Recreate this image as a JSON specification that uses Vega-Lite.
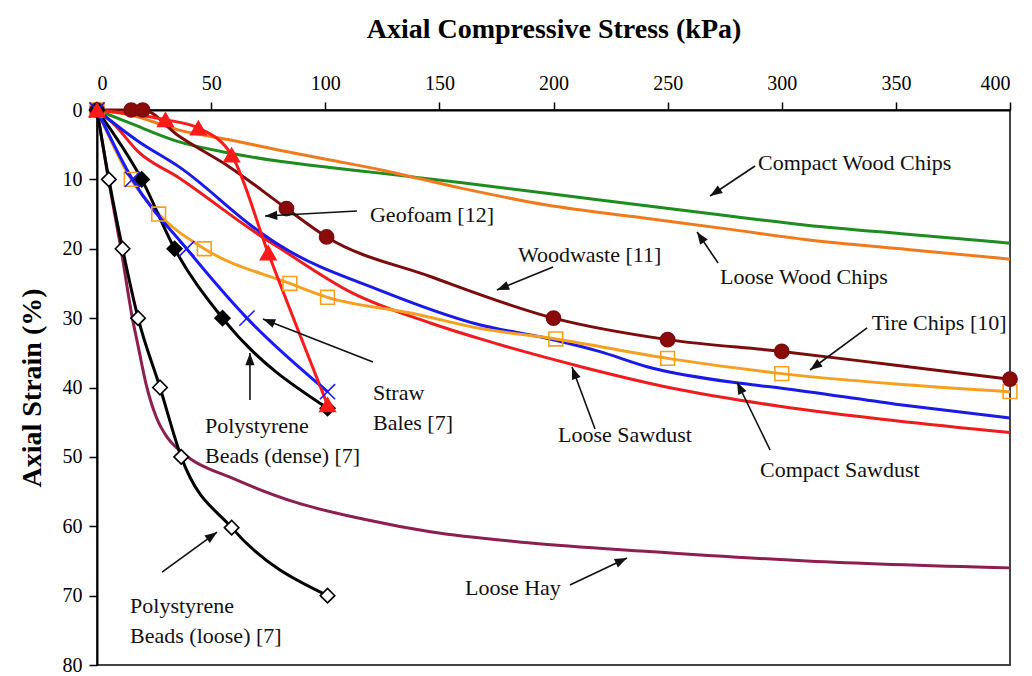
{
  "$schema": "https://vega.github.io/schema/vega-lite/v6.json",
  "width": 913,
  "height": 555,
  "autosize": {"type": "none"},
  "padding": {"left": 97, "top": 110, "right": 22, "bottom": 11},
  "background": "white",
  "config": {
    "font": "Liberation Serif",
    "view": {"stroke": "#444", "strokeWidth": 2},
    "axis": {
      "grid": false,
      "domainColor": "#000",
      "domainWidth": 2,
      "tickColor": "#000",
      "tickWidth": 1.5,
      "tickSize": 8,
      "labelFont": "Liberation Serif",
      "labelFontSize": 20,
      "labelColor": "#000",
      "titleFont": "Liberation Serif",
      "titleFontSize": 28,
      "titleFontWeight": "bold",
      "titleColor": "#000"
    }
  },
  "datasets": {
    "curves": [
      {"s": "Compact Wood Chips", "x": 0, "y": 0, "m": 0},
      {"s": "Compact Wood Chips", "x": 14.5, "y": 1.9, "m": 0},
      {"s": "Compact Wood Chips", "x": 36, "y": 4.6, "m": 0},
      {"s": "Compact Wood Chips", "x": 58, "y": 6.2, "m": 0},
      {"s": "Compact Wood Chips", "x": 80, "y": 7.4, "m": 0},
      {"s": "Compact Wood Chips", "x": 102, "y": 8.3, "m": 0},
      {"s": "Compact Wood Chips", "x": 124, "y": 9.1, "m": 0},
      {"s": "Compact Wood Chips", "x": 160, "y": 10.5, "m": 0},
      {"s": "Compact Wood Chips", "x": 197, "y": 12, "m": 0},
      {"s": "Compact Wood Chips", "x": 238, "y": 13.7, "m": 0},
      {"s": "Compact Wood Chips", "x": 270, "y": 15, "m": 0},
      {"s": "Compact Wood Chips", "x": 311, "y": 16.6, "m": 0},
      {"s": "Compact Wood Chips", "x": 355, "y": 17.9, "m": 0},
      {"s": "Compact Wood Chips", "x": 400, "y": 19.2, "m": 0},

      {"s": "Loose Wood Chips", "x": 0, "y": 0, "m": 0},
      {"s": "Loose Wood Chips", "x": 14.5, "y": 0.7, "m": 0},
      {"s": "Loose Wood Chips", "x": 36, "y": 2.9, "m": 0},
      {"s": "Loose Wood Chips", "x": 58, "y": 4.3, "m": 0},
      {"s": "Loose Wood Chips", "x": 80, "y": 5.8, "m": 0},
      {"s": "Loose Wood Chips", "x": 102, "y": 7.2, "m": 0},
      {"s": "Loose Wood Chips", "x": 124, "y": 8.6, "m": 0},
      {"s": "Loose Wood Chips", "x": 160, "y": 11.3, "m": 0},
      {"s": "Loose Wood Chips", "x": 197, "y": 13.7, "m": 0},
      {"s": "Loose Wood Chips", "x": 238, "y": 15.5, "m": 0},
      {"s": "Loose Wood Chips", "x": 275, "y": 17.1, "m": 0},
      {"s": "Loose Wood Chips", "x": 311, "y": 18.7, "m": 0},
      {"s": "Loose Wood Chips", "x": 355, "y": 20.1, "m": 0},
      {"s": "Loose Wood Chips", "x": 400, "y": 21.5, "m": 0},

      {"s": "Loose Hay", "x": 0, "y": 0, "m": 0},
      {"s": "Loose Hay", "x": 5, "y": 10, "m": 0},
      {"s": "Loose Hay", "x": 10.5, "y": 20, "m": 0},
      {"s": "Loose Hay", "x": 15.5, "y": 30, "m": 0},
      {"s": "Loose Hay", "x": 18, "y": 34, "m": 0},
      {"s": "Loose Hay", "x": 21.5, "y": 39.5, "m": 0},
      {"s": "Loose Hay", "x": 26, "y": 44.3, "m": 0},
      {"s": "Loose Hay", "x": 31, "y": 47.3, "m": 0},
      {"s": "Loose Hay", "x": 36, "y": 49, "m": 0},
      {"s": "Loose Hay", "x": 41, "y": 50.3, "m": 0},
      {"s": "Loose Hay", "x": 58, "y": 52.9, "m": 0},
      {"s": "Loose Hay", "x": 87.5, "y": 56.6, "m": 0},
      {"s": "Loose Hay", "x": 117, "y": 59, "m": 0},
      {"s": "Loose Hay", "x": 146, "y": 60.8, "m": 0},
      {"s": "Loose Hay", "x": 190, "y": 62.4, "m": 0},
      {"s": "Loose Hay", "x": 240, "y": 63.6, "m": 0},
      {"s": "Loose Hay", "x": 311, "y": 65, "m": 0},
      {"s": "Loose Hay", "x": 400, "y": 66, "m": 0},

      {"s": "Loose Sawdust", "x": 0, "y": 0, "m": 0},
      {"s": "Loose Sawdust", "x": 7, "y": 1.9, "m": 0},
      {"s": "Loose Sawdust", "x": 18, "y": 6, "m": 0},
      {"s": "Loose Sawdust", "x": 36, "y": 9.8, "m": 0},
      {"s": "Loose Sawdust", "x": 71, "y": 18, "m": 0},
      {"s": "Loose Sawdust", "x": 80, "y": 19.9, "m": 0},
      {"s": "Loose Sawdust", "x": 112, "y": 26.4, "m": 0},
      {"s": "Loose Sawdust", "x": 146, "y": 30.7, "m": 0},
      {"s": "Loose Sawdust", "x": 168, "y": 33, "m": 0},
      {"s": "Loose Sawdust", "x": 212, "y": 37, "m": 0},
      {"s": "Loose Sawdust", "x": 255, "y": 40.3, "m": 0},
      {"s": "Loose Sawdust", "x": 299, "y": 42.7, "m": 0},
      {"s": "Loose Sawdust", "x": 350, "y": 44.8, "m": 0},
      {"s": "Loose Sawdust", "x": 400, "y": 46.5, "m": 0},

      {"s": "Compact Sawdust", "x": 0, "y": 0, "m": 0},
      {"s": "Compact Sawdust", "x": 18, "y": 4.5, "m": 0},
      {"s": "Compact Sawdust", "x": 36, "y": 8.2, "m": 0},
      {"s": "Compact Sawdust", "x": 71, "y": 17.5, "m": 0},
      {"s": "Compact Sawdust", "x": 80, "y": 19.5, "m": 0},
      {"s": "Compact Sawdust", "x": 124, "y": 26, "m": 0},
      {"s": "Compact Sawdust", "x": 168, "y": 31, "m": 0},
      {"s": "Compact Sawdust", "x": 197, "y": 32.9, "m": 0},
      {"s": "Compact Sawdust", "x": 220, "y": 34.8, "m": 0},
      {"s": "Compact Sawdust", "x": 241, "y": 37, "m": 0},
      {"s": "Compact Sawdust", "x": 282, "y": 39.4, "m": 0},
      {"s": "Compact Sawdust", "x": 300, "y": 40.1, "m": 0},
      {"s": "Compact Sawdust", "x": 350, "y": 42.4, "m": 0},
      {"s": "Compact Sawdust", "x": 400, "y": 44.4, "m": 0},

      {"s": "Tire Chips", "x": 0, "y": 0, "m": 1},
      {"s": "Tire Chips", "x": 15, "y": 10, "m": 1},
      {"s": "Tire Chips", "x": 27, "y": 15, "m": 1},
      {"s": "Tire Chips", "x": 47, "y": 20, "m": 1},
      {"s": "Tire Chips", "x": 84.5, "y": 25, "m": 1},
      {"s": "Tire Chips", "x": 101, "y": 27, "m": 1},
      {"s": "Tire Chips", "x": 138, "y": 29.3, "m": 0},
      {"s": "Tire Chips", "x": 168, "y": 31.5, "m": 0},
      {"s": "Tire Chips", "x": 201, "y": 33, "m": 1},
      {"s": "Tire Chips", "x": 250, "y": 35.8, "m": 1},
      {"s": "Tire Chips", "x": 300, "y": 38, "m": 1},
      {"s": "Tire Chips", "x": 350, "y": 39.5, "m": 0},
      {"s": "Tire Chips", "x": 400, "y": 40.6, "m": 1},

      {"s": "Woodwaste", "x": 0, "y": 0, "m": 1},
      {"s": "Woodwaste", "x": 15, "y": 0, "m": 1},
      {"s": "Woodwaste", "x": 20, "y": 0, "m": 1},
      {"s": "Woodwaste", "x": 36, "y": 3.8, "m": 0},
      {"s": "Woodwaste", "x": 58, "y": 8.2, "m": 0},
      {"s": "Woodwaste", "x": 83, "y": 14.2, "m": 1},
      {"s": "Woodwaste", "x": 100.6, "y": 18.3, "m": 1},
      {"s": "Woodwaste", "x": 146, "y": 24, "m": 0},
      {"s": "Woodwaste", "x": 200, "y": 30, "m": 1},
      {"s": "Woodwaste", "x": 250, "y": 33.1, "m": 1},
      {"s": "Woodwaste", "x": 300, "y": 34.8, "m": 1},
      {"s": "Woodwaste", "x": 350, "y": 36.8, "m": 0},
      {"s": "Woodwaste", "x": 400, "y": 38.8, "m": 1},

      {"s": "Loose Beads", "x": 0, "y": 0, "m": 1},
      {"s": "Loose Beads", "x": 5.2, "y": 10, "m": 1},
      {"s": "Loose Beads", "x": 11.2, "y": 20, "m": 1},
      {"s": "Loose Beads", "x": 18, "y": 30, "m": 1},
      {"s": "Loose Beads", "x": 27.6, "y": 40, "m": 1},
      {"s": "Loose Beads", "x": 36.9, "y": 50, "m": 1},
      {"s": "Loose Beads", "x": 59, "y": 60.2, "m": 1},
      {"s": "Loose Beads", "x": 101, "y": 70, "m": 1},

      {"s": "Dense Beads", "x": 0, "y": 0, "m": 1},
      {"s": "Dense Beads", "x": 19.6, "y": 10, "m": 1},
      {"s": "Dense Beads", "x": 34, "y": 20, "m": 1},
      {"s": "Dense Beads", "x": 55, "y": 30, "m": 1},
      {"s": "Dense Beads", "x": 101, "y": 43, "m": 1},

      {"s": "Straw Bales", "x": 0, "y": 0, "m": 1},
      {"s": "Straw Bales", "x": 15.5, "y": 10, "m": 1},
      {"s": "Straw Bales", "x": 39.3, "y": 20, "m": 1},
      {"s": "Straw Bales", "x": 65.7, "y": 30, "m": 1},
      {"s": "Straw Bales", "x": 101, "y": 40.6, "m": 1},

      {"s": "Geofoam", "x": 0, "y": 0, "m": 1},
      {"s": "Geofoam", "x": 30, "y": 1.4, "m": 1},
      {"s": "Geofoam", "x": 44.4, "y": 2.6, "m": 1},
      {"s": "Geofoam", "x": 59, "y": 6.5, "m": 1},
      {"s": "Geofoam", "x": 75, "y": 20.6, "m": 1},
      {"s": "Geofoam", "x": 101, "y": 42.5, "m": 1}
    ],
    "labels": [
      {"t": "Compact Wood Chips", "x": 289.6, "y": 7.6},
      {"t": "Geofoam [12]", "x": 119.6, "y": 15.1},
      {"t": "Woodwaste [11]", "x": 184.4, "y": 20.9},
      {"t": "Loose Wood Chips", "x": 273, "y": 24.1},
      {"t": "Tire Chips [10]", "x": 339.4, "y": 30.7},
      {"t": "Straw\nBales [7]", "x": 120.9, "y": 40.85},
      {"t": "Polystyrene\nBeads (dense) [7]", "x": 47.3, "y": 45.6},
      {"t": "Loose Sawdust", "x": 202, "y": 46.8},
      {"t": "Compact Sawdust", "x": 290.5, "y": 51.9},
      {"t": "Polystyrene\nBeads (loose) [7]", "x": 14.5, "y": 71.5},
      {"t": "Loose Hay", "x": 161.2, "y": 68.9}
    ],
    "arrows": [
      {"x": 288.3, "y": 8.07, "x2": 268.6, "y2": 12.4},
      {"x": 113.9, "y": 14.56, "x2": 73.6, "y2": 15.28},
      {"x": 199.8, "y": 22.63, "x2": 175.2, "y2": 25.95},
      {"x": 272.1, "y": 22.05, "x2": 262.9, "y2": 17.58},
      {"x": 337.4, "y": 31.42, "x2": 312.4, "y2": 37.48},
      {"x": 120.9, "y": 36.32, "x2": 72.7, "y2": 30.13},
      {"x": 67.0, "y": 41.8, "x2": 67.0, "y2": 35.03},
      {"x": 218.2, "y": 45.98, "x2": 208.1, "y2": 37.05},
      {"x": 294.9, "y": 49.01, "x2": 280.4, "y2": 39.21},
      {"x": 28.5, "y": 66.6, "x2": 52.6, "y2": 60.85},
      {"x": 207.2, "y": 68.47, "x2": 232.2, "y2": 64.58}
    ]
  },
  "encoding": {
    "x": {
      "field": "x",
      "type": "quantitative",
      "scale": {"domain": [0, 400], "nice": false, "zero": false},
      "axis": {
        "orient": "top",
        "values": [0, 50, 100, 150, 200, 250, 300, 350, 400],
        "title": "Axial Compressive Stress (kPa)",
        "titlePadding": 30,
        "labelPadding": 9
      }
    },
    "y": {
      "field": "y",
      "type": "quantitative",
      "scale": {"domain": [0, 80], "nice": false, "reverse": true},
      "axis": {
        "values": [0, 10, 20, 30, 40, 50, 60, 70, 80],
        "title": "Axial Strain (%)",
        "titlePadding": 16,
        "labelPadding": 7
      }
    }
  },
  "layer": [
    {
      "data": {"name": "curves"},
      "mark": {"type": "line", "strokeWidth": 3, "interpolate": "monotone", "clip": false},
      "encoding": {
        "detail": {"field": "s", "type": "nominal"},
        "stroke": {
          "field": "s",
          "type": "nominal",
          "legend": null,
          "scale": {
            "domain": ["Compact Wood Chips", "Loose Wood Chips", "Loose Hay", "Loose Sawdust", "Compact Sawdust", "Tire Chips", "Woodwaste", "Loose Beads", "Dense Beads", "Straw Bales", "Geofoam"],
            "range": ["#1e8c1e", "#f07a1e", "#8c1f4f", "#ee1c1c", "#1a1ae6", "#f5a020", "#7b0c0c", "#000000", "#000000", "#1a1aff", "#ff1a1a"]
          }
        }
      }
    },
    {
      "data": {"name": "curves"},
      "transform": [{"filter": "datum.m == 1"}],
      "mark": {"type": "point", "filled": false, "strokeWidth": 1.6, "opacity": 1, "clip": false},
      "encoding": {
        "stroke": {"field": "s", "type": "nominal", "legend": null},
        "fill": {
          "field": "s",
          "type": "nominal",
          "legend": null,
          "scale": {
            "domain": ["Tire Chips", "Woodwaste", "Loose Beads", "Dense Beads", "Straw Bales", "Geofoam"],
            "range": ["transparent", "#8b0a0a", "#ffffff", "#000000", "transparent", "#ff1a1a"]
          }
        },
        "shape": {
          "field": "s",
          "type": "nominal",
          "legend": null,
          "scale": {
            "domain": ["Tire Chips", "Woodwaste", "Loose Beads", "Dense Beads", "Straw Bales", "Geofoam"],
            "range": ["square", "circle", "diamond", "diamond", "M-1,-1L1,1M-1,1L1,-1", "triangle-up"]
          }
        },
        "size": {
          "field": "s",
          "type": "nominal",
          "legend": null,
          "scale": {
            "domain": ["Tire Chips", "Woodwaste", "Loose Beads", "Dense Beads", "Straw Bales", "Geofoam"],
            "range": [190, 240, 130, 170, 150, 190]
          }
        }
      }
    },
    {
      "data": {"name": "arrows"},
      "mark": {"type": "rule", "stroke": "#111", "strokeWidth": 1.6},
      "encoding": {
        "x2": {"field": "x2"},
        "y2": {"field": "y2"}
      }
    },
    {
      "data": {"name": "arrows"},
      "transform": [
        {"calculate": "atan2((datum.x2 - datum.x) * 2.2825, -(datum.y2 - datum.y) * 6.9375) * 180 / PI", "as": "ang"},
        {"calculate": "datum.x2", "as": "x"},
        {"calculate": "datum.y2", "as": "y"}
      ],
      "mark": {"type": "point", "shape": "M0,0L-0.75,2L0.75,2Z", "filled": true, "fill": "#111", "stroke": null, "size": 150, "opacity": 1},
      "encoding": {
        "angle": {"field": "ang", "type": "quantitative", "scale": null}
      }
    },
    {
      "data": {"name": "labels"},
      "mark": {"type": "text", "align": "left", "baseline": "middle", "fontSize": 22, "font": "Liberation Serif", "color": "#111", "lineBreak": "\n", "lineHeight": 30},
      "encoding": {
        "text": {"field": "t", "type": "nominal"}
      }
    }
  ]
}
